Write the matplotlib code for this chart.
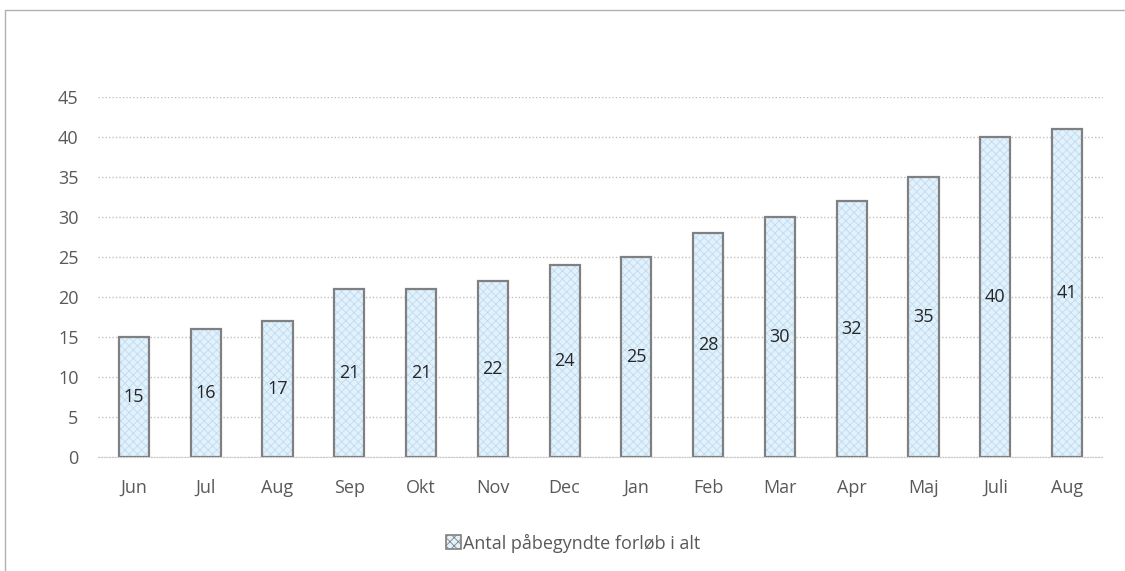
import matplotlib.pyplot as plt
from matplotlib.patches import Rectangle, Patch

months = ["Jun", "Jul", "Aug", "Sep", "Okt", "Nov", "Dec", "Jan", "Feb", "Mar", "Apr", "Maj", "Juli", "Aug"]
values = [15, 16, 17, 21, 21, 22, 24, 25, 28, 30, 32, 35, 40, 41]
yticks = [0, 5, 10, 15, 20, 25, 30, 35, 40, 45]
series_name = "Antal påbegyndte forløb i alt"

plt.rcParams['font.family'] = ['Open Sans', 'DejaVu Sans']
plt.rcParams['hatch.linewidth'] = 0.6

fig = plt.figure(figsize=(11.25, 5.71), dpi=100)
ax = fig.add_axes([98/1125, 1-457/571, (1103-98)/1125, (457-97)/571])

x = list(range(len(months)))
fill = '#e3f1fb'
ax.bar(x, values, width=0.42, color=fill, edgecolor='#bcdcf2', hatch='xxxx', linewidth=0, zorder=2)
ax.bar(x, values, width=0.42, color='none', edgecolor='#808080', linewidth=1.6, zorder=3)

for xi, v in zip(x, values):
    ax.text(xi, v/2, str(v), ha='center', va='center', fontsize=13, color='#262626', zorder=4)

ax.set_xlim(-0.5, len(months)-0.5)
ax.set_ylim(0, 45)
ax.set_yticks(yticks)
ax.set_xticks(x)
ax.set_xticklabels(months)
ax.tick_params(axis='both', length=0, labelsize=13, labelcolor='#595959')
ax.tick_params(axis='x', pad=16)
ax.tick_params(axis='y', pad=14)
for s in ['top', 'right', 'left']:
    ax.spines[s].set_visible(False)
ax.spines['bottom'].set_color('#c8c8c8')
ax.spines['bottom'].set_linestyle((0, (1, 1.5)))
ax.yaxis.grid(True, color='#c0c0c0', linestyle=(0, (1, 1.5)), linewidth=1)
ax.set_axisbelow(True)

handle = Patch(facecolor=fill, edgecolor='#808080', hatch='xxxx', linewidth=1.2)
fig.legend([handle], [series_name], loc='center', bbox_to_anchor=(573/1125, 1-543/571),
           frameon=False, fontsize=13, labelcolor='#595959', handlelength=0.8, handleheight=0.8,
           handletextpad=0.1)

fig.patches.append(Rectangle((5/1125, -0.1), 1.2, 1-10/571+0.1, transform=fig.transFigure,
                             fill=False, edgecolor='#b0b0b0', linewidth=1))

fig.savefig('out.png', dpi=100, facecolor='white')
